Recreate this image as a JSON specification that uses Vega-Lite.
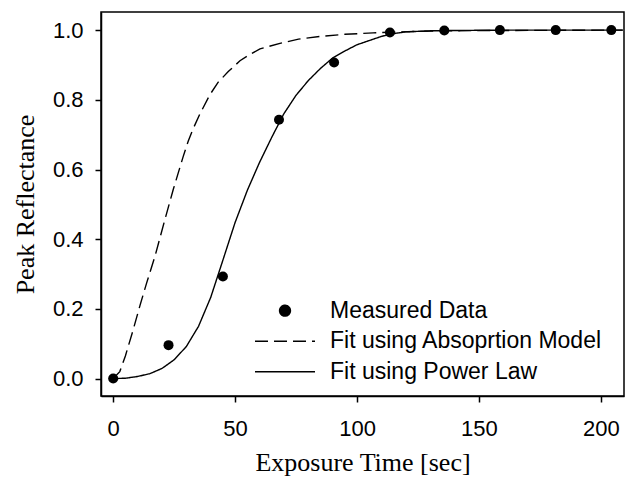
{
  "$schema": "https://vega.github.io/schema/vega-lite/v6.json",
  "width": 523,
  "height": 384,
  "autosize": {"type": "none"},
  "padding": {"left": 101, "top": 12, "right": 10, "bottom": 88},
  "background": "white",
  "config": {
    "view": {"stroke": "black", "strokeWidth": 1.5},
    "axis": {"grid": false}
  },
  "datasets": {
    "measured": [
      {"t": 0, "r": 0.0},
      {"t": 22.7, "r": 0.096},
      {"t": 45.0, "r": 0.293},
      {"t": 68.0, "r": 0.743},
      {"t": 90.6, "r": 0.907},
      {"t": 113.5, "r": 0.993},
      {"t": 135.8, "r": 0.999},
      {"t": 158.6, "r": 1.0},
      {"t": 181.5, "r": 1.0},
      {"t": 204.3, "r": 1.0}
    ],
    "fits": [
      {"t": 0, "r": 0.0, "series": "Fit using Absoprtion Model"},
      {"t": 2.7, "r": 0.02, "series": "Fit using Absoprtion Model"},
      {"t": 5, "r": 0.065, "series": "Fit using Absoprtion Model"},
      {"t": 8.2, "r": 0.14, "series": "Fit using Absoprtion Model"},
      {"t": 11, "r": 0.21, "series": "Fit using Absoprtion Model"},
      {"t": 13.7, "r": 0.274, "series": "Fit using Absoprtion Model"},
      {"t": 17.1, "r": 0.35, "series": "Fit using Absoprtion Model"},
      {"t": 21.2, "r": 0.456, "series": "Fit using Absoprtion Model"},
      {"t": 24.6, "r": 0.542, "series": "Fit using Absoprtion Model"},
      {"t": 28.7, "r": 0.637, "series": "Fit using Absoprtion Model"},
      {"t": 30.8, "r": 0.682, "series": "Fit using Absoprtion Model"},
      {"t": 32.6, "r": 0.714, "series": "Fit using Absoprtion Model"},
      {"t": 35.6, "r": 0.76, "series": "Fit using Absoprtion Model"},
      {"t": 39.7, "r": 0.815, "series": "Fit using Absoprtion Model"},
      {"t": 43, "r": 0.85, "series": "Fit using Absoprtion Model"},
      {"t": 47.2, "r": 0.881, "series": "Fit using Absoprtion Model"},
      {"t": 52, "r": 0.912, "series": "Fit using Absoprtion Model"},
      {"t": 56, "r": 0.93, "series": "Fit using Absoprtion Model"},
      {"t": 60.2, "r": 0.946, "series": "Fit using Absoprtion Model"},
      {"t": 68.4, "r": 0.962, "series": "Fit using Absoprtion Model"},
      {"t": 76, "r": 0.974, "series": "Fit using Absoprtion Model"},
      {"t": 84.8, "r": 0.982, "series": "Fit using Absoprtion Model"},
      {"t": 95, "r": 0.988, "series": "Fit using Absoprtion Model"},
      {"t": 106.6, "r": 0.992, "series": "Fit using Absoprtion Model"},
      {"t": 117.6, "r": 0.995, "series": "Fit using Absoprtion Model"},
      {"t": 135, "r": 0.998, "series": "Fit using Absoprtion Model"},
      {"t": 160, "r": 0.999, "series": "Fit using Absoprtion Model"},
      {"t": 209, "r": 1.0, "series": "Fit using Absoprtion Model"},
      {"t": 0, "r": 0.0, "series": "Fit using Power Law"},
      {"t": 5, "r": 0.001, "series": "Fit using Power Law"},
      {"t": 10, "r": 0.006, "series": "Fit using Power Law"},
      {"t": 15, "r": 0.014, "series": "Fit using Power Law"},
      {"t": 20, "r": 0.029, "series": "Fit using Power Law"},
      {"t": 25, "r": 0.054, "series": "Fit using Power Law"},
      {"t": 30, "r": 0.092, "series": "Fit using Power Law"},
      {"t": 35, "r": 0.15, "series": "Fit using Power Law"},
      {"t": 40, "r": 0.233, "series": "Fit using Power Law"},
      {"t": 45, "r": 0.34, "series": "Fit using Power Law"},
      {"t": 50, "r": 0.448, "series": "Fit using Power Law"},
      {"t": 55, "r": 0.54, "series": "Fit using Power Law"},
      {"t": 60, "r": 0.62, "series": "Fit using Power Law"},
      {"t": 65, "r": 0.692, "series": "Fit using Power Law"},
      {"t": 70, "r": 0.76, "series": "Fit using Power Law"},
      {"t": 75, "r": 0.813, "series": "Fit using Power Law"},
      {"t": 80, "r": 0.855, "series": "Fit using Power Law"},
      {"t": 85, "r": 0.89, "series": "Fit using Power Law"},
      {"t": 90, "r": 0.92, "series": "Fit using Power Law"},
      {"t": 95, "r": 0.94, "series": "Fit using Power Law"},
      {"t": 100, "r": 0.958, "series": "Fit using Power Law"},
      {"t": 105, "r": 0.97, "series": "Fit using Power Law"},
      {"t": 110, "r": 0.982, "series": "Fit using Power Law"},
      {"t": 115, "r": 0.99, "series": "Fit using Power Law"},
      {"t": 120, "r": 0.995, "series": "Fit using Power Law"},
      {"t": 130, "r": 0.998, "series": "Fit using Power Law"},
      {"t": 140, "r": 0.999, "series": "Fit using Power Law"},
      {"t": 160, "r": 1.0, "series": "Fit using Power Law"},
      {"t": 209, "r": 1.0, "series": "Fit using Power Law"}
    ]
  },
  "encoding": {
    "x": {
      "field": "t",
      "type": "quantitative",
      "scale": {"domain": [-5, 209.5], "nice": false, "zero": false},
      "axis": {
        "values": [0, 50, 100, 150, 200],
        "labelFont": "Liberation Sans",
        "labelFontSize": 22,
        "labelColor": "black",
        "labelPadding": 16,
        "tickColor": "black",
        "tickSize": 6,
        "tickWidth": 1.5,
        "domainColor": "black",
        "domainWidth": 1.5,
        "title": "Exposure Time [sec]",
        "titleFont": "Liberation Serif",
        "titleFontSize": 26,
        "titleFontWeight": "normal",
        "titleColor": "black",
        "titleBaseline": "alphabetic",
        "titleX": 261.5,
        "titleY": 74.5,
        "titleAlign": "center"
      }
    },
    "y": {
      "field": "r",
      "type": "quantitative",
      "scale": {"domain": [-0.05, 1.052], "nice": false, "zero": false},
      "axis": {
        "values": [0, 0.2, 0.4, 0.6, 0.8, 1.0],
        "format": ".1f",
        "labelFont": "Liberation Sans",
        "labelFontSize": 22,
        "labelColor": "black",
        "labelPadding": 12,
        "tickColor": "black",
        "tickSize": 6,
        "tickWidth": 1.5,
        "domainColor": "black",
        "domainWidth": 1.5,
        "title": "Peak Reflectance",
        "titleFont": "Liberation Serif",
        "titleFontSize": 26,
        "titleFontWeight": "normal",
        "titleColor": "black",
        "titleAngle": -90,
        "titleBaseline": "alphabetic",
        "titleAlign": "center",
        "titleX": -68,
        "titleY": 192
      }
    }
  },
  "layer": [
    {
      "data": {"name": "fits"},
      "mark": {"type": "line", "color": "black", "strokeWidth": 1.4, "clip": true},
      "encoding": {
        "strokeDash": {
          "field": "series",
          "type": "nominal",
          "scale": {
            "domain": ["Measured Data", "Fit using Absoprtion Model", "Fit using Power Law"],
            "range": [[1, 0], [13, 6], [1, 0]]
          },
          "legend": {
            "title": null,
            "orient": "none",
            "legendX": 153,
            "legendY": 287.2,
            "padding": 0,
            "labelFont": "Liberation Sans",
            "labelFontSize": 23,
            "labelColor": "black",
            "labelOffset": 14,
            "labelLimit": 400,
            "symbolType": "stroke",
            "symbolSize": 3600,
            "symbolStrokeWidth": 1.5,
            "symbolStrokeColor": "black",
            "clipHeight": 23,
            "rowPadding": 6.5,
            "encode": {
              "symbols": {
                "update": {
                  "shape": {"signal": "datum.value === 'Measured Data' ? 'M-0.18,0A0.18,0.18,0,1,0,0.18,0A0.18,0.18,0,1,0,-0.18,0Z' : 'stroke'"},
                  "fill": {"signal": "datum.value === 'Measured Data' ? 'black' : 'transparent'"},
                  "stroke": {"value": "black"}
                }
              }
            }
          }
        }
      }
    },
    {
      "data": {"name": "measured"},
      "mark": {"type": "point", "filled": true, "color": "black", "size": 100, "opacity": 1}
    }
  ]
}
